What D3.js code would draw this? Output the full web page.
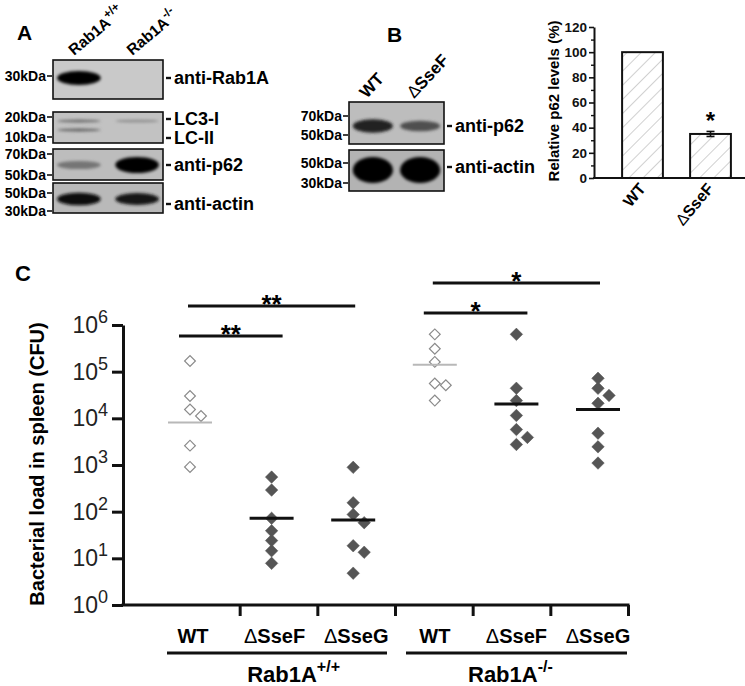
<!DOCTYPE html>
<html>
<head>
<meta charset="utf-8">
<script src="https://cdn.jsdelivr.net/npm/d3@7"></script>
<style>
  body { margin: 0; background: #fff; }
  svg { display: block; }
</style>
</head>
<body>
<div id="fig"></div>
<script>
// ---------------- data ----------------
// panel A: blot lanes and relative band intensities (0..1) per lane
const lanesA = ["Rab1A", "Rab1A"];
const lanesSupA = ["+/+", "-/-"];
const rab1aBand = [1.0, 0.0];
const lc3iBand = [0.45, 0.3];
const lc3iiBand = [0.5, 0.0];
const p62BandA = [0.4, 1.0];
const actinBandA = [0.95, 0.9];

// panel B: blot lanes and band intensities
const lanesB = ["WT", "ΔSseF"];
const p62BandB = [0.85, 0.6];
const actinBandB = [1.0, 1.0];

// panel B bar chart: relative p62 levels (%)
const barCats = ["WT", "ΔSseF"];
const barValues = [100, 35];
const barErrors = [0, 2];
const barTicks = [0, 20, 40, 60, 80, 100, 120];

// panel C: bacterial load in spleen (CFU) per mouse
const strains = ["WT", "ΔSseF", "ΔSseG", "WT", "ΔSseF", "ΔSseG"];
const genotypes = ["Rab1A", "Rab1A"];
const genotypeSup = ["+/+", "-/-"];
const cfu = [
  [170000, 30000, 15500, 11200, 2600, 910],
  [550, 290, 72, 39, 24, 14.5, 7.8],
  [890, 155, 87, 58, 18.6, 13.5, 4.8],
  [630000, 310000, 162000, 56000, 51000, 24000],
  [630000, 44000, 24000, 11500, 5750, 3900, 2750],
  [72000, 44000, 31000, 21000, 4800, 2450, 1100]
];
const cfuMean = [8100, 72, 66, 141000, 20400, 15500];
const cfuTicks = [1, 10, 100, 1000, 10000, 100000, 1000000];
// comparisons: [from group, to group, label, row]
const comparisons = [[0, 2, "**", 0], [0, 1, "**", 1], [3, 5, "*", 0], [3, 4, "*", 1]];

// ---------------- setup ----------------
const W = 745, H = 686;
const font = "Arial, 'Liberation Sans', sans-serif";

const svg = d3.select("#fig")
    .append("svg")
    .attr("width", W)
    .attr("height", H)
    .attr("font-family", font);

const defs = svg.append("defs");
defs.append("filter")
    .attr("id", "blur")
    .attr("x", "-30%").attr("y", "-100%")
    .attr("width", "160%").attr("height", "300%")
    .append("feGaussianBlur")
    .attr("stdDeviation", 1.8);

let blotCount = 0;

function panelLetter(t, x, y) {
    svg.append("text")
        .attr("x", x).attr("y", y)
        .attr("font-size", 21).attr("font-weight", "bold")
        .text(t);
}

// one blot strip with bands, markers on the left, antibody labels on the right
function drawBlot(o) {
    const g = svg.append("g");
    const id = "blotclip" + (blotCount++);
    defs.append("clipPath").attr("id", id)
        .append("rect").attr("x", o.x).attr("y", o.y).attr("width", o.w).attr("height", o.h);

    g.append("rect")
        .attr("x", o.x).attr("y", o.y).attr("width", o.w).attr("height", o.h)
        .attr("fill", o.bg);

    const bandG = g.append("g").attr("clip-path", `url(#${id})`);
    o.rows.forEach(row => {
        bandG.selectAll(null)
            .data(row.values.map((v, i) => ({ v, lane: i })).filter(d => d.v > 0))
            .join("ellipse")
            .attr("cx", d => o.lane(d.lane) + o.lane.bandwidth() / 2)
            .attr("rx", o.lane.bandwidth() / 2)
            .attr("cy", row.cy)
            .attr("ry", d => (row.bh0 + row.bh1 * d.v) / 2)
            .attr("fill", d => d3.interpolateRgb(o.bg, "#060606")(d.v))
            .attr("filter", "url(#blur)");
    });

    g.append("rect")
        .attr("x", o.x).attr("y", o.y).attr("width", o.w).attr("height", o.h)
        .attr("fill", "none").attr("stroke", "#111").attr("stroke-width", 1.6);

    o.markers.forEach(m => {
        g.append("line")
            .attr("x1", o.x - 6).attr("x2", o.x - 1)
            .attr("y1", m.y).attr("y2", m.y)
            .attr("stroke", "#111").attr("stroke-width", 1.6);
        g.append("text")
            .attr("x", o.x - 7).attr("y", m.y + 5)
            .attr("text-anchor", "end")
            .attr("font-size", 14).attr("font-weight", "bold")
            .text(m.text);
    });

    o.labels.forEach(l => {
        g.append("line")
            .attr("x1", o.x + o.w + 3).attr("x2", o.x + o.w + 8)
            .attr("y1", l.y).attr("y2", l.y)
            .attr("stroke", "#111").attr("stroke-width", 2.4);
        g.append("text")
            .attr("x", o.x + o.w + 11).attr("y", l.y + 6)
            .attr("font-size", 18).attr("font-weight", "bold")
            .text(l.text);
    });
}

// text with optional delta drawn in regular weight
function deltaText(sel, s) {
    if (s.startsWith("Δ")) {
        sel.append("tspan").attr("font-weight", "normal").text("Δ");
        sel.append("tspan").text(s.slice(1));
    } else {
        sel.text(s);
    }
}

// ---------------- panel A ----------------
panelLetter("A", 17, 40);

const laneA = d3.scaleBand().domain(d3.range(lanesA.length)).range([53, 163])
    .paddingInner(0.25).paddingOuter(0.07);

lanesA.forEach((name, i) => {
    const t = svg.append("text")
        .attr("transform", `translate(${laneA(i) + 17},56) rotate(-40)`)
        .attr("font-size", 15.5).attr("font-weight", "bold");
    t.append("tspan").text(name);
    t.append("tspan").attr("dy", -7).attr("font-size", 12).text(lanesSupA[i]);
});

drawBlot({
    x: 53, y: 60, w: 110, h: 39, bg: "#c9c9c9", lane: laneA,
    rows: [{ values: rab1aBand, cy: 78, bh0: 5, bh1: 9 }],
    markers: [{ text: "30kDa", y: 76 }],
    labels: [{ text: "anti-Rab1A", y: 78 }]
});
drawBlot({
    x: 53, y: 112, w: 110, h: 31, bg: "#c2c2c2", lane: laneA,
    rows: [
        { values: lc3iBand, cy: 121, bh0: 2, bh1: 2 },
        { values: lc3iiBand, cy: 130, bh0: 2, bh1: 2 }
    ],
    markers: [{ text: "20kDa", y: 117 }, { text: "10kDa", y: 137 }],
    labels: [{ text: "LC3-I", y: 119 }, { text: "LC-II", y: 138 }]
});
drawBlot({
    x: 53, y: 149, w: 110, h: 31, bg: "#bdbdbd", lane: laneA,
    rows: [{ values: p62BandA, cy: 165, bh0: 3, bh1: 13 }],
    markers: [{ text: "70kDa", y: 154 }, { text: "50kDa", y: 175 }],
    labels: [{ text: "anti-p62", y: 165 }]
});
drawBlot({
    x: 53, y: 183, w: 110, h: 30, bg: "#b9b9b9", lane: laneA,
    rows: [{ values: actinBandA, cy: 199, bh0: 5, bh1: 8 }],
    markers: [{ text: "50kDa", y: 193 }, { text: "30kDa", y: 211 }],
    labels: [{ text: "anti-actin", y: 204 }]
});

// ---------------- panel B blots ----------------
panelLetter("B", 387, 42);

const laneB = d3.scaleBand().domain(d3.range(lanesB.length)).range([349, 444])
    .paddingInner(0.15).paddingOuter(0.08);

lanesB.forEach((name, i) => {
    const t = svg.append("text")
        .attr("transform", `translate(${laneB(i) + 14},99) rotate(-47)`)
        .attr("font-size", 17).attr("font-weight", "bold");
    deltaText(t, name);
});

drawBlot({
    x: 349, y: 102, w: 95, h: 42, bg: "#bdbdbd", lane: laneB,
    rows: [{ values: p62BandB, cy: 126, bh0: 4, bh1: 11 }],
    markers: [{ text: "70kDa", y: 116 }, { text: "50kDa", y: 135 }],
    labels: [{ text: "anti-p62", y: 126 }]
});
drawBlot({
    x: 349, y: 150, w: 95, h: 41, bg: "#b3b3b3", lane: laneB,
    rows: [{ values: actinBandB, cy: 170, bh0: 8, bh1: 18 }],
    markers: [{ text: "50kDa", y: 163 }, { text: "30kDa", y: 183 }],
    labels: [{ text: "anti-actin", y: 167 }]
});

// ---------------- panel B bar chart ----------------
const barY = d3.scaleLinear().domain([0, 120]).range([178, 27]);
const barX = d3.scaleBand().domain(barCats).range([608.5, 744.5])
    .paddingInner(0.4).paddingOuter(0.2);

const hatch = defs.append("pattern")
    .attr("id", "hatch")
    .attr("patternUnits", "userSpaceOnUse")
    .attr("width", 10).attr("height", 10)
    .attr("patternTransform", "rotate(45)");
hatch.append("line")
    .attr("x1", 0).attr("x2", 0).attr("y1", 0).attr("y2", 10)
    .attr("stroke", "#8a8a8a").attr("stroke-width", 0.8);

const barG = svg.append("g");

barG.selectAll("rect.bar")
    .data(barValues)
    .join("rect")
    .attr("class", "bar")
    .attr("x", (d, i) => barX(barCats[i]))
    .attr("width", barX.bandwidth())
    .attr("y", d => barY(d))
    .attr("height", d => barY(0) - barY(d))
    .attr("fill", "url(#hatch)")
    .attr("stroke", "#111").attr("stroke-width", 2);

// error bars
barValues.forEach((v, i) => {
    if (!barErrors[i]) return;
    const cx = barX(barCats[i]) + barX.bandwidth() / 2;
    const e = barG.append("g").attr("stroke", "#111").attr("stroke-width", 1.6);
    e.append("line").attr("x1", cx).attr("x2", cx).attr("y1", barY(v + barErrors[i])).attr("y2", barY(v - barErrors[i]));
    [v + barErrors[i], v - barErrors[i]].forEach(w => {
        e.append("line").attr("x1", cx - 4).attr("x2", cx + 4).attr("y1", barY(w)).attr("y2", barY(w));
    });
    barG.append("text")
        .attr("x", cx).attr("y", barY(v + barErrors[i]) + 2)
        .attr("dy", -4)
        .attr("text-anchor", "middle")
        .attr("font-size", 24).attr("font-weight", "bold")
        .text("*");
});

// axes
const barMinor = barG.append("g")
    .attr("transform", "translate(594,0)")
    .call(d3.axisLeft(barY).tickValues(d3.range(10, 120, 20)).tickSize(3).tickFormat(""));
barMinor.select(".domain").remove();
barMinor.selectAll("line").attr("stroke", "#111").attr("stroke-width", 1.4);

const barAxis = barG.append("g")
    .attr("transform", "translate(594,0)")
    .call(d3.axisLeft(barY).tickValues(barTicks).tickSize(5).tickSizeOuter(0).tickPadding(2));
barAxis.select(".domain").attr("stroke", "#111").attr("stroke-width", 2);
barAxis.selectAll("line").attr("stroke", "#111").attr("stroke-width", 1.6);
barAxis.selectAll("text")
    .attr("font-family", font).attr("font-size", 13.5).attr("font-weight", "bold").attr("fill", "#111");

barG.append("line")
    .attr("x1", 593).attr("x2", W)
    .attr("y1", barY(0)).attr("y2", barY(0))
    .attr("stroke", "#111").attr("stroke-width", 2);

barCats.forEach(c => {
    const t = barG.append("text")
        .attr("transform", `translate(${barX(c) + barX.bandwidth() / 2 + 4},189) rotate(-50)`)
        .attr("text-anchor", "end")
        .attr("font-size", 16).attr("font-weight", "bold");
    deltaText(t, c);
});

barG.append("text")
    .attr("transform", "translate(559,101) rotate(-90)")
    .attr("text-anchor", "middle")
    .attr("font-size", 15).attr("font-weight", "bold")
    .text("Relative p62 levels (%)");

// ---------------- panel C ----------------
svg.append("text")
    .attr("x", 15).attr("y", 281)
    .attr("font-size", 22).attr("font-weight", "bold")
    .text("C");

const yC = d3.scaleLog().domain([1, 1e6]).range([605, 325]);
const xC = d3.scalePoint().domain(d3.range(strains.length)).range([190, 598]);
const xTick = d3.scaleLinear().domain([0, strains.length]).range([162, 628]);

const cG = svg.append("g");

// y axis
const yAxisC = cG.append("g")
    .attr("transform", "translate(123,0)")
    .call(d3.axisLeft(yC).tickValues(cfuTicks).tickSize(11).tickSizeOuter(0).tickFormat(""));
yAxisC.select(".domain").attr("stroke", "#111").attr("stroke-width", 3);
yAxisC.selectAll("line").attr("stroke", "#111").attr("stroke-width", 3);

cfuTicks.forEach(v => {
    const t = cG.append("text")
        .attr("x", 108).attr("y", yC(v) + 8)
        .attr("text-anchor", "end")
        .attr("font-size", 23).attr("fill", "#222");
    t.append("tspan").text("10");
    t.append("tspan").attr("dy", -10).attr("font-size", 18).text(Math.round(Math.log10(v)));
});

cG.append("text")
    .attr("transform", "translate(44,464) rotate(-90)")
    .attr("text-anchor", "middle")
    .attr("font-size", 20).attr("font-weight", "bold")
    .text("Bacterial load in spleen (CFU)");

// x axis
cG.append("line")
    .attr("x1", 121.5).attr("x2", xTick(strains.length) + 1.5)
    .attr("y1", yC(1)).attr("y2", yC(1))
    .attr("stroke", "#111").attr("stroke-width", 3);
const xAxisC = cG.append("g")
    .attr("transform", `translate(0,${yC(1)})`)
    .call(d3.axisBottom(xTick).tickValues(d3.range(1, strains.length + 1)).tickSize(11).tickFormat(""));
xAxisC.select(".domain").remove();
xAxisC.selectAll("line").attr("stroke", "#111").attr("stroke-width", 3);

strains.forEach((s, i) => {
    const t = cG.append("text")
        .attr("x", xC(i) + (i < 3 ? 3 : 0)).attr("y", 643)
        .attr("text-anchor", "middle")
        .attr("font-size", 20).attr("font-weight", "bold");
    deltaText(t, s);
});

// genotype groups
const genoShift = [22, -6];
genotypes.forEach((gname, k) => {
    const x0 = k === 0 ? 167 : 406, x1 = k === 0 ? 387 : 627;
    cG.append("line")
        .attr("x1", x0).attr("x2", x1).attr("y1", 653).attr("y2", 653)
        .attr("stroke", "#111").attr("stroke-width", 3);
    const t = cG.append("text")
        .attr("x", (xC(3 * k) + xC(3 * k + 2)) / 2 + genoShift[k]).attr("y", 682)
        .attr("text-anchor", "middle")
        .attr("font-size", 22).attr("font-weight", "bold");
    t.append("tspan").text(gname);
    t.append("tspan").attr("dy", -10).attr("font-size", 16).text(genotypeSup[k]);
});

// points, dodged horizontally where they would overlap
function dodge(values, cx) {
    const placed = [];
    values.slice().sort((a, b) => b - a).forEach(v => {
        const y = yC(v);
        let off = 0;
        for (const c of [0, 11, -11]) {
            if (!placed.some(p => Math.abs(p.y - y) < 9 && Math.abs(p.x - (cx + c)) < 11)) { off = c; break; }
        }
        placed.push({ x: cx + off, y, v });
    });
    return placed;
}

cfu.forEach((vals, i) => {
    const wild = i % 3 === 0;
    const pts = dodge(vals, xC(i));
    cG.append("g").selectAll("path")
        .data(pts)
        .join("path")
        .attr("d", d3.symbol(d3.symbolSquare, wild ? 58 : 78))
        .attr("transform", d => `translate(${d.x},${d.y}) rotate(45)`)
        .attr("fill", wild ? "#fff" : "#555")
        .attr("stroke", wild ? "#8a8a8a" : "#555")
        .attr("stroke-width", wild ? 1.2 : 0.5);

    cG.append("line")
        .attr("x1", xC(i) - 22).attr("x2", xC(i) + 22)
        .attr("y1", yC(cfuMean[i])).attr("y2", yC(cfuMean[i]))
        .attr("stroke", wild ? "#b8b8b8" : "#111")
        .attr("stroke-width", wild ? 2 : 3);
});

// significance bars
const rowY = [[306, 336], [283, 313]];
comparisons.forEach(([a, b, label, row]) => {
    const side = a < 3 ? 0 : 1;
    const y = rowY[side][row];
    const ext = row === 1 ? 11 : 2;
    const x0 = xC(a) - ext, x1 = xC(b) + ext;
    cG.append("line")
        .attr("x1", x0).attr("x2", x1).attr("y1", y).attr("y2", y)
        .attr("stroke", "#111").attr("stroke-width", 3);
    cG.append("text")
        .attr("x", (x0 + x1) / 2).attr("y", y + 7)
        .attr("text-anchor", "middle")
        .attr("font-size", 26).attr("font-weight", "bold")
        .text(label);
});
</script>
</body>
</html>
